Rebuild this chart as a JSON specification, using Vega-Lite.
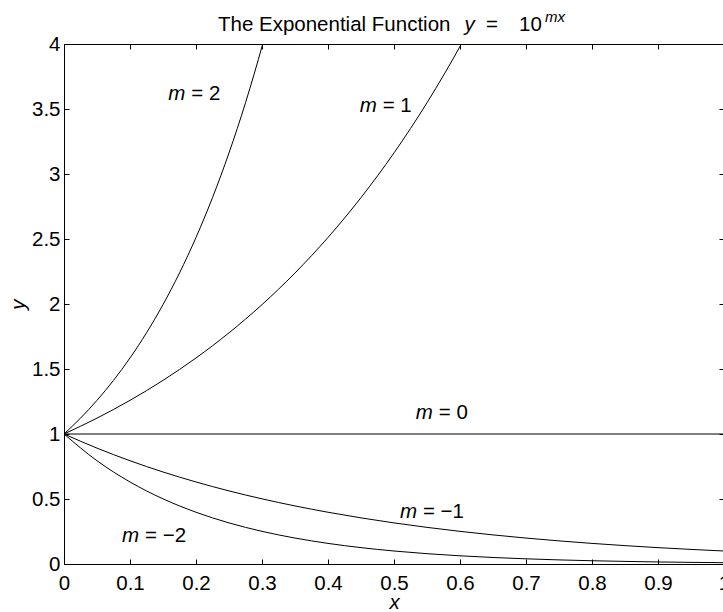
{
  "$schema": "https://vega.github.io/schema/vega-lite/v6.json",
  "width": 660,
  "height": 520,
  "autosize": {"type": "none"},
  "padding": {"left": 64, "top": 44, "right": 0, "bottom": 48},
  "background": "white",
  "config": {
    "font": "Liberation Sans",
    "view": {"stroke": "black", "strokeWidth": 1},
    "axis": {
      "labelFont": "Liberation Sans",
      "labelFontSize": 20.5,
      "labelColor": "black",
      "titleFont": "Liberation Sans",
      "titleFontSize": 20.5,
      "titleColor": "black",
      "titleFontWeight": "normal",
      "domainColor": "black",
      "tickColor": "black",
      "grid": false
    },
    "text": {"font": "Liberation Sans", "fontSize": 20.5, "color": "black"}
  },
  "datasets": {
    "curves": [
      {"m": "2", "x": 0, "y": 1},
      {"m": "2", "x": 0.025, "y": 1.122},
      {"m": "2", "x": 0.05, "y": 1.2589},
      {"m": "2", "x": 0.075, "y": 1.4125},
      {"m": "2", "x": 0.1, "y": 1.5849},
      {"m": "2", "x": 0.125, "y": 1.7783},
      {"m": "2", "x": 0.15, "y": 1.9953},
      {"m": "2", "x": 0.175, "y": 2.2387},
      {"m": "2", "x": 0.2, "y": 2.5119},
      {"m": "2", "x": 0.225, "y": 2.8184},
      {"m": "2", "x": 0.25, "y": 3.1623},
      {"m": "2", "x": 0.275, "y": 3.5481},
      {"m": "2", "x": 0.30103, "y": 4},
      {"m": "2", "x": 0.325, "y": 4.4668},
      {"m": "1", "x": 0, "y": 1},
      {"m": "1", "x": 0.05, "y": 1.122},
      {"m": "1", "x": 0.1, "y": 1.2589},
      {"m": "1", "x": 0.15, "y": 1.4125},
      {"m": "1", "x": 0.2, "y": 1.5849},
      {"m": "1", "x": 0.25, "y": 1.7783},
      {"m": "1", "x": 0.3, "y": 1.9953},
      {"m": "1", "x": 0.35, "y": 2.2387},
      {"m": "1", "x": 0.4, "y": 2.5119},
      {"m": "1", "x": 0.45, "y": 2.8184},
      {"m": "1", "x": 0.5, "y": 3.1623},
      {"m": "1", "x": 0.55, "y": 3.5481},
      {"m": "1", "x": 0.60206, "y": 4},
      {"m": "1", "x": 0.65, "y": 4.4668},
      {"m": "0", "x": 0, "y": 1},
      {"m": "0", "x": 1, "y": 1},
      {"m": "-1", "x": 0, "y": 1},
      {"m": "-1", "x": 0.05, "y": 0.8913},
      {"m": "-1", "x": 0.1, "y": 0.7943},
      {"m": "-1", "x": 0.15, "y": 0.7079},
      {"m": "-1", "x": 0.2, "y": 0.631},
      {"m": "-1", "x": 0.25, "y": 0.5623},
      {"m": "-1", "x": 0.3, "y": 0.5012},
      {"m": "-1", "x": 0.35, "y": 0.4467},
      {"m": "-1", "x": 0.4, "y": 0.3981},
      {"m": "-1", "x": 0.45, "y": 0.3548},
      {"m": "-1", "x": 0.5, "y": 0.3162},
      {"m": "-1", "x": 0.55, "y": 0.2818},
      {"m": "-1", "x": 0.6, "y": 0.2512},
      {"m": "-1", "x": 0.65, "y": 0.2239},
      {"m": "-1", "x": 0.7, "y": 0.1995},
      {"m": "-1", "x": 0.75, "y": 0.1778},
      {"m": "-1", "x": 0.8, "y": 0.1585},
      {"m": "-1", "x": 0.85, "y": 0.1413},
      {"m": "-1", "x": 0.9, "y": 0.1259},
      {"m": "-1", "x": 0.95, "y": 0.1122},
      {"m": "-1", "x": 1, "y": 0.1},
      {"m": "-2", "x": 0, "y": 1},
      {"m": "-2", "x": 0.05, "y": 0.7943},
      {"m": "-2", "x": 0.1, "y": 0.631},
      {"m": "-2", "x": 0.15, "y": 0.5012},
      {"m": "-2", "x": 0.2, "y": 0.3981},
      {"m": "-2", "x": 0.25, "y": 0.3162},
      {"m": "-2", "x": 0.3, "y": 0.2512},
      {"m": "-2", "x": 0.35, "y": 0.1995},
      {"m": "-2", "x": 0.4, "y": 0.1585},
      {"m": "-2", "x": 0.45, "y": 0.1259},
      {"m": "-2", "x": 0.5, "y": 0.1},
      {"m": "-2", "x": 0.55, "y": 0.0794},
      {"m": "-2", "x": 0.6, "y": 0.0631},
      {"m": "-2", "x": 0.65, "y": 0.0501},
      {"m": "-2", "x": 0.7, "y": 0.0398},
      {"m": "-2", "x": 0.75, "y": 0.0316},
      {"m": "-2", "x": 0.8, "y": 0.0251},
      {"m": "-2", "x": 0.85, "y": 0.02},
      {"m": "-2", "x": 0.9, "y": 0.0158},
      {"m": "-2", "x": 0.95, "y": 0.0126},
      {"m": "-2", "x": 1, "y": 0.01}
    ],
    "labels": [
      {"x": 0.158, "y": 3.57, "rest": "= 2"},
      {"x": 0.448, "y": 3.477, "rest": "= 1"},
      {"x": 0.533, "y": 1.115, "rest": "= 0"},
      {"x": 0.509, "y": 0.354, "rest": "= −1"},
      {"x": 0.088, "y": 0.169, "rest": "= −2"}
    ],
    "anchor": [{}]
  },
  "resolve": {"axis": {"x": "independent", "y": "independent"}},
  "layer": [
    {
      "data": {"name": "curves"},
      "mark": {"type": "line", "color": "black", "strokeWidth": 1, "interpolate": "monotone", "clip": true},
      "encoding": {
        "x": {
          "field": "x", "type": "quantitative",
          "scale": {"domain": [0, 1], "nice": false, "zero": false},
          "axis": {
            "orient": "bottom",
            "values": [0, 0.1, 0.2, 0.3, 0.4, 0.5, 0.6, 0.7, 0.8, 0.9, 1],
            "format": "~g", "labelFlush": false, "labelOverlap": false,
            "tickSize": -5, "labelPadding": 14,
            "title": "x", "titleFontStyle": "italic", "titlePadding": -1
          }
        },
        "y": {
          "field": "y", "type": "quantitative",
          "scale": {"domain": [0, 4], "nice": false, "zero": false},
          "axis": {
            "orient": "left",
            "values": [0, 0.5, 1, 1.5, 2, 2.5, 3, 3.5, 4],
            "format": "~g", "labelFlush": false, "labelOverlap": false,
            "tickSize": -5, "labelPadding": 9,
            "title": "y", "titleFontStyle": "italic", "titlePadding": 3
          }
        },
        "detail": {"field": "m"}
      }
    },
    {
      "data": {"name": "labels"},
      "mark": {"type": "text", "text": "m", "fontStyle": "italic", "align": "left", "baseline": "alphabetic"},
      "encoding": {
        "x": {
          "field": "x", "type": "quantitative",
          "axis": {
            "orient": "top", "values": [0, 0.1, 0.2, 0.3, 0.4, 0.5, 0.6, 0.7, 0.8, 0.9, 1],
            "labels": false, "tickSize": -5, "domain": false, "title": null
          }
        },
        "y": {
          "field": "y", "type": "quantitative",
          "axis": {
            "orient": "right", "values": [0, 0.5, 1, 1.5, 2, 2.5, 3, 3.5, 4],
            "labels": false, "tickSize": -5, "domain": false, "title": null
          }
        }
      }
    },
    {
      "data": {"name": "labels"},
      "mark": {"type": "text", "align": "left", "baseline": "alphabetic", "dx": 23},
      "encoding": {
        "x": {"field": "x", "type": "quantitative", "axis": null},
        "y": {"field": "y", "type": "quantitative", "axis": null},
        "text": {"field": "rest"}
      }
    },
    {
      "data": {"name": "anchor"},
      "mark": {"type": "text", "text": "The Exponential Function", "align": "left", "baseline": "alphabetic", "dy": -13},
      "encoding": {
        "x": {"datum": 0.2333, "type": "quantitative", "axis": null},
        "y": {"datum": 4, "type": "quantitative", "axis": null}
      }
    },
    {
      "data": {"name": "anchor"},
      "mark": {"type": "text", "text": "y", "fontStyle": "italic", "align": "left", "baseline": "alphabetic", "dy": -13},
      "encoding": {
        "x": {"datum": 0.607, "type": "quantitative", "axis": null},
        "y": {"datum": 4, "type": "quantitative", "axis": null}
      }
    },
    {
      "data": {"name": "anchor"},
      "mark": {"type": "text", "text": "=", "align": "left", "baseline": "alphabetic", "dy": -13},
      "encoding": {
        "x": {"datum": 0.6394, "type": "quantitative", "axis": null},
        "y": {"datum": 4, "type": "quantitative", "axis": null}
      }
    },
    {
      "data": {"name": "anchor"},
      "mark": {"type": "text", "text": "10", "align": "left", "baseline": "alphabetic", "dy": -13},
      "encoding": {
        "x": {"datum": 0.6894, "type": "quantitative", "axis": null},
        "y": {"datum": 4, "type": "quantitative", "axis": null}
      }
    },
    {
      "data": {"name": "anchor"},
      "mark": {"type": "text", "text": "mx", "fontStyle": "italic", "fontSize": 15, "align": "left", "baseline": "alphabetic", "dy": -22},
      "encoding": {
        "x": {"datum": 0.7288, "type": "quantitative", "axis": null},
        "y": {"datum": 4, "type": "quantitative", "axis": null}
      }
    }
  ]
}
